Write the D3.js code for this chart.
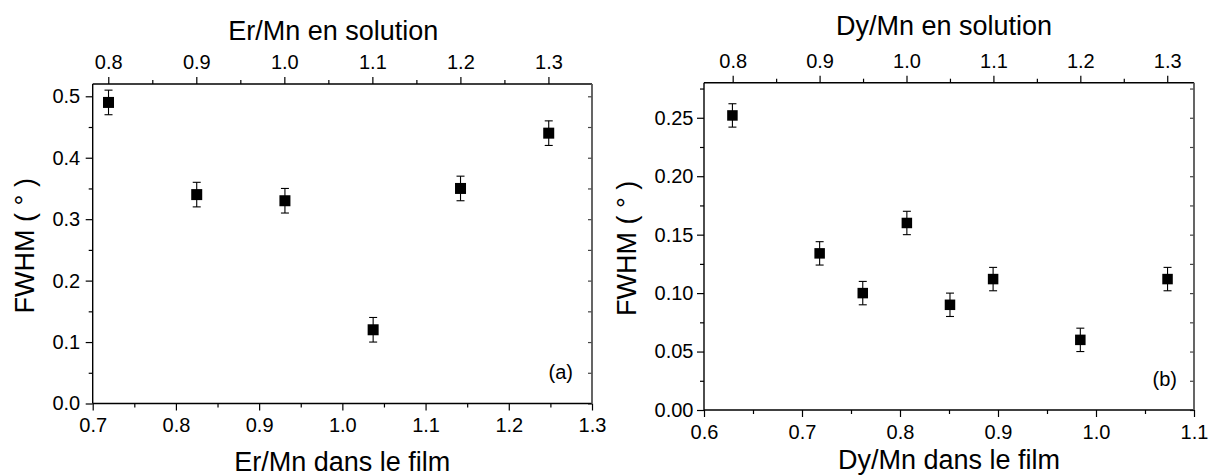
<!DOCTYPE html>
<html>
<head>
<meta charset="utf-8">
<script src="https://cdn.jsdelivr.net/npm/d3@7"></script>
<style>
  html, body { margin: 0; padding: 0; background: #fff; }
  svg { display: block; font-family: "Liberation Sans", Arial, sans-serif; }
</style>
</head>
<body>
<svg id="chart" width="1216" height="475"></svg>
<script>
// ---------- data ----------
// Panel (a): Er
const erSolution = [0.8, 0.9, 1.0, 1.1, 1.2, 1.3];
const erFilm     = [0.719, 0.825, 0.931, 1.037, 1.142, 1.248];
const erFWHM     = [0.49, 0.34, 0.33, 0.12, 0.35, 0.44];
const erErr      = [0.02, 0.02, 0.02, 0.02, 0.02, 0.02];
// Panel (b): Dy
const dySolution = [0.8, 0.9, 0.95, 1.0, 1.05, 1.1, 1.2, 1.3];
const dyFilm     = [0.629, 0.718, 0.762, 0.807, 0.851, 0.895, 0.984, 1.073];
const dyFWHM     = [0.252, 0.134, 0.100, 0.160, 0.090, 0.112, 0.060, 0.112];
const dyErr      = [0.01, 0.01, 0.01, 0.01, 0.01, 0.01, 0.01, 0.01];

// tick values
const erBottomTicks = [0.7, 0.8, 0.9, 1.0, 1.1, 1.2, 1.3];
const erBottomMinor = [0.75, 0.85, 0.95, 1.05, 1.15, 1.25];
const erTopTicks    = [0.8, 0.9, 1.0, 1.1, 1.2, 1.3];
const erTopMinor    = [0.85, 0.95, 1.05, 1.15, 1.25];
const erYTicks      = [0.0, 0.1, 0.2, 0.3, 0.4, 0.5];
const erYMinor      = [0.05, 0.15, 0.25, 0.35, 0.45];

const dyBottomTicks = [0.6, 0.7, 0.8, 0.9, 1.0, 1.1];
const dyBottomMinor = [0.65, 0.75, 0.85, 0.95, 1.05];
const dyTopTicks    = [0.8, 0.9, 1.0, 1.1, 1.2, 1.3];
const dyTopMinor    = [0.85, 0.95, 1.05, 1.15, 1.25];
const dyYTicks      = [0.00, 0.05, 0.10, 0.15, 0.20, 0.25];
const dyYMinor      = [0.025, 0.075, 0.125, 0.175, 0.225, 0.275];

const panels = [
  {
    x0: 92.7, x1: 592, y0: 84, y1: 403.5,
    bottomDomain: [0.7, 1.3], topDomain: [0.7823, 1.3495], yDomain: [0, 0.52],
    film: erFilm, sol: erSolution, val: erFWHM, err: erErr,
    bT: erBottomTicks, bM: erBottomMinor, tT: erTopTicks, tM: erTopMinor,
    yT: erYTicks, yM: erYMinor, yFmt: ".1f", yPad: 5.5,
    topTitle: "Er/Mn en solution", bottomTitle: "Er/Mn dans le film",
    topTitleY: 39.5, topTitleDx: -9, bottomTitleY: 470.5,
    yTitleX: 33.5, tag: "(a)", tagX: 573, tagY: 379, sq: 11
  },
  {
    x0: 704, x1: 1194, y0: 82.7, y1: 410,
    bottomDomain: [0.6, 1.1], topDomain: [0.767, 1.3308], yDomain: [0, 0.28],
    film: dyFilm, sol: dySolution, val: dyFWHM, err: dyErr,
    bT: dyBottomTicks, bM: dyBottomMinor, tT: dyTopTicks, tM: dyTopMinor,
    yT: dyYTicks, yM: dyYMinor, yFmt: ".2f", yPad: 3.5,
    topTitle: "Dy/Mn en solution", bottomTitle: "Dy/Mn dans le film",
    topTitleY: 35, topTitleDx: -5, bottomTitleY: 468.5,
    yTitleX: 635.5, tag: "(b)", tagX: 1177, tagY: 386, sq: 10.5
  }
];

const svg = d3.select("#chart");

function styleAxis(g, fontSize) {
  g.select(".domain").remove();
  g.selectAll(".tick line").attr("stroke", "#000").attr("stroke-width", 1.2);
  g.selectAll(".tick text")
    .attr("fill", "#000")
    .style("font-size", fontSize + "px")
    .style("font-family", '"Liberation Sans", Arial, sans-serif');
}

panels.forEach(p => {
  const xB = d3.scaleLinear().domain(p.bottomDomain).range([p.x0, p.x1]);
  const xT = d3.scaleLinear().domain(p.topDomain).range([p.x0, p.x1]);
  const y  = d3.scaleLinear().domain(p.yDomain).range([p.y1, p.y0]);
  const g = svg.append("g");

  // bottom axis
  g.append("g").attr("transform", `translate(0,${p.y1})`)
    .call(d3.axisBottom(xB).tickValues(p.bT).tickFormat(d3.format(".1f")).tickSize(7).tickPadding(7.5))
    .call(a => styleAxis(a, 20));
  g.append("g").attr("transform", `translate(0,${p.y1})`)
    .call(d3.axisBottom(xB).tickValues(p.bM).tickFormat("").tickSize(4))
    .call(a => styleAxis(a, 20));

  // top axis
  g.append("g").attr("transform", `translate(0,${p.y0})`)
    .call(d3.axisTop(xT).tickValues(p.tT).tickFormat(d3.format(".1f")).tickSize(7).tickPadding(8))
    .call(a => styleAxis(a, 20));
  g.append("g").attr("transform", `translate(0,${p.y0})`)
    .call(d3.axisTop(xT).tickValues(p.tM).tickFormat("").tickSize(4))
    .call(a => styleAxis(a, 20));

  // left axis
  g.append("g").attr("transform", `translate(${p.x0},0)`)
    .call(d3.axisLeft(y).tickValues(p.yT).tickFormat(d3.format(p.yFmt)).tickSize(7).tickPadding(p.yPad))
    .call(a => styleAxis(a, 20));
  g.append("g").attr("transform", `translate(${p.x0},0)`)
    .call(d3.axisLeft(y).tickValues(p.yM).tickFormat("").tickSize(4))
    .call(a => styleAxis(a, 20));

  // right side inward ticks
  g.append("g").attr("transform", `translate(${p.x1},0)`)
    .call(d3.axisLeft(y).tickValues(p.yT.concat(p.yM)).tickFormat("").tickSize(4))
    .call(a => styleAxis(a, 20))
    .selectAll(".tick line").attr("stroke", "#444").attr("x2", -4);

  // frame
  g.append("line").attr("x1", p.x0).attr("x2", p.x1).attr("y1", p.y1).attr("y2", p.y1)
    .attr("stroke", "#000").attr("stroke-width", 1.4);
  g.append("line").attr("x1", p.x0).attr("x2", p.x1).attr("y1", p.y0).attr("y2", p.y0)
    .attr("stroke", "#000").attr("stroke-width", 1.4);
  g.append("line").attr("x1", p.x0).attr("x2", p.x0).attr("y1", p.y0).attr("y2", p.y1)
    .attr("stroke", "#000").attr("stroke-width", 1.4);
  g.append("line").attr("x1", p.x1).attr("x2", p.x1).attr("y1", p.y0).attr("y2", p.y1)
    .attr("stroke", "#555").attr("stroke-width", 1.8);

  // error bars
  const idx = d3.range(p.val.length);
  const eb = g.append("g").attr("stroke", "#000").attr("stroke-width", 1.1);
  idx.forEach(i => {
    const cx = xB(p.film[i]);
    const yt = y(p.val[i] + p.err[i]);
    const yb = y(p.val[i] - p.err[i]);
    eb.append("line").attr("x1", cx).attr("x2", cx).attr("y1", yt).attr("y2", yb);
    eb.append("line").attr("x1", cx - 4).attr("x2", cx + 4).attr("y1", yt).attr("y2", yt);
    eb.append("line").attr("x1", cx - 4).attr("x2", cx + 4).attr("y1", yb).attr("y2", yb);
  });

  // markers
  g.append("g").selectAll("rect").data(idx).join("rect")
    .attr("x", i => xB(p.film[i]) - p.sq / 2)
    .attr("y", i => y(p.val[i]) - p.sq / 2)
    .attr("width", p.sq).attr("height", p.sq)
    .attr("fill", "#000");

  // titles
  const cx = (p.x0 + p.x1) / 2;
  g.append("text").attr("x", cx + p.topTitleDx).attr("y", p.topTitleY)
    .attr("text-anchor", "middle").style("font-size", "27px").text(p.topTitle);
  g.append("text").attr("x", cx).attr("y", p.bottomTitleY)
    .attr("text-anchor", "middle").style("font-size", "27px").text(p.bottomTitle);
  g.append("text")
    .attr("transform", `translate(${p.yTitleX},${(p.y0 + p.y1) / 2 + 2}) rotate(-90)`)
    .attr("text-anchor", "middle").style("font-size", "27px").text("FWHM ( ° )");
  g.append("text").attr("x", p.tagX).attr("y", p.tagY)
    .attr("text-anchor", "end").style("font-size", "20px").text(p.tag);
});
</script>
</body>
</html>
